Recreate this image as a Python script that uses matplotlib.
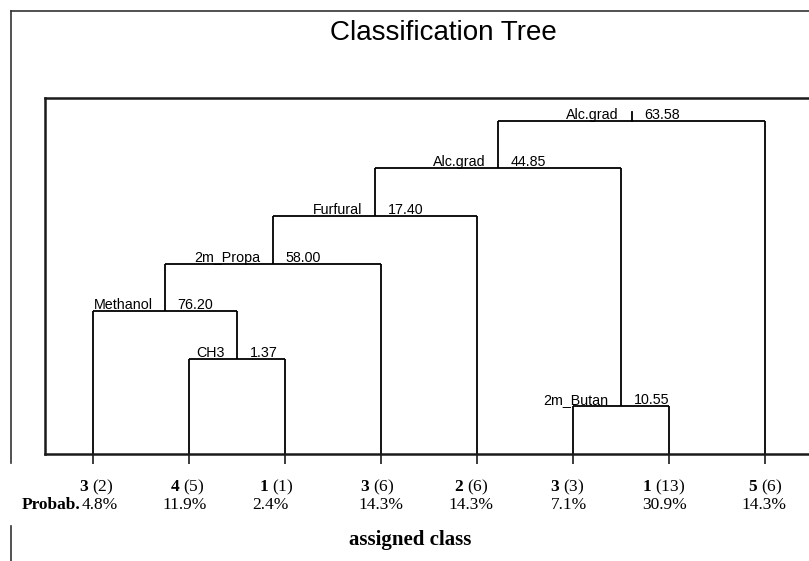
import matplotlib
matplotlib.use("Agg")
import matplotlib.pyplot as plt
from matplotlib.lines import Line2D

# folhas (classe atribuída, contagem, probabilidade)
leaf_class = ["3", "4", "1", "3", "2", "3", "1", "5"]
leaf_count = ["(2)", "(5)", "(1)", "(6)", "(6)", "(3)", "(13)", "(6)"]
leaf_prob = ["4.8%", "11.9%", "2.4%", "14.3%", "14.3%", "7.1%", "30.9%", "14.3%"]

# nós internos: nome da variável, valor de corte, filhos, nível
node_name = ["CH3", "Methanol", "2m_Propa", "Furfural", "2m_Butan", "Alc.grad", "Alc.grad"]
node_value = ["1.37", "76.20", "58.00", "17.40", "10.55", "44.85", "63.58"]
node_left = ["L1", "L0", "N1", "N2", "L5", "N3", "N5"]
node_right = ["L2", "N0", "L3", "L4", "L6", "N4", "L7"]
node_level = [2, 3, 4, 5, 1, 6, 7]

# pequenos deslocamentos horizontais dos rótulos de baixo (pixels)
class_dx = [3, -2, -9, -4, -6, -6, -5, 0]
prob_dx = [7, -4, -15, 0, -6, -4, -4, -1]

plt.rcParams["mathtext.fontset"] = "custom"
plt.rcParams["mathtext.rm"] = "Liberation Serif"
plt.rcParams["mathtext.bf"] = "Liberation Serif:bold"

W, H = 809, 561
fig = plt.figure(figsize=(W / 100, H / 100), dpi=100)

# eixo principal (a borda direita fica fora da figura, como no original)
box_l, box_r, box_t, box_b = 45, 813, 98, 454
ax = fig.add_axes([box_l / W, 1 - box_b / H, (box_r - box_l) / W, (box_b - box_t) / H])
ax.set_xlim(-0.5, 7.5)
ax.set_ylim(0, 7.48)
for s in ax.spines.values():
    s.set_linewidth(1.8)
    s.set_color("#1a1a1a")


def pos(ref):
    kind, i = ref[0], int(ref[1:])
    if kind == "L":
        return float(i), 0.0
    return node_x[i], node_level[i]


# x de cada nó = média dos filhos
node_x = [0.0] * len(node_name)
for i in range(len(node_name)):
    xl, _ = pos(node_left[i])
    xr, _ = pos(node_right[i])
    node_x[i] = (xl + xr) / 2

lc = "black"
lw = 1.3
for i in range(len(node_name)):
    xl, yl = pos(node_left[i])
    xr, yr = pos(node_right[i])
    y = node_level[i]
    ax.plot([xl, xr], [y, y], color=lc, lw=lw, solid_capstyle="butt")
    ax.plot([xl, xl], [yl, y], color=lc, lw=lw, solid_capstyle="butt")
    ax.plot([xr, xr], [yr, y], color=lc, lw=lw, solid_capstyle="butt")
    # rótulos do nó
    ax.annotate(node_name[i], (node_x[i], y), xytext=(-9, 1.5), textcoords="offset points",
                ha="right", va="baseline", fontsize=10.3, family="Liberation Sans")
    ax.annotate(node_value[i], (node_x[i], y), xytext=(9, 1.5), textcoords="offset points",
                ha="left", va="baseline", fontsize=10.3, family="Liberation Sans")

# haste curta acima da raiz
root = len(node_name) - 1
ax.plot([node_x[root], node_x[root]], [node_level[root], node_level[root] + 0.19],
        color=lc, lw=lw)

ax.set_xticks(range(len(leaf_class)))
ax.set_xticklabels([])
ax.set_yticks([])
ax.tick_params(axis="x", direction="out", length=7, width=1.2, color="#1a1a1a")

# rótulos das folhas
serif = "Liberation Serif"
for i in range(len(leaf_class)):
    txt = r"$\mathbf{" + leaf_class[i] + "}$ " + leaf_count[i]
    ax.annotate(txt, (i, 0), xytext=(class_dx[i] * 0.72, -24), textcoords="offset points",
                ha="center", va="center", fontsize=12.5, family=serif)
    ax.annotate(leaf_prob[i], (i, 0), xytext=(prob_dx[i] * 0.72, -37), textcoords="offset points",
                ha="center", va="center", fontsize=12.5, family=serif)

fig.text(22 / W, 1 - 505 / H, "Probab.", ha="left", va="center", fontsize=12.5,
         fontweight="bold", family=serif)

fig.text(410 / W, 1 - 540 / H, "assigned class", ha="center", va="center", fontsize=15,
         fontweight="bold", family=serif)

fig.text(443 / W, 1 - 33 / H, "Classification Tree", ha="center", va="center",
         fontsize=20, family="Liberation Sans")

# moldura externa
fig.add_artist(Line2D([11 / W, 11 / W], [1 - 11 / H, 1 - 463 / H], color="#333333", lw=1.2))
fig.add_artist(Line2D([11 / W, 11 / W], [1 - 526 / H, 0], color="#333333", lw=1.2))
fig.add_artist(Line2D([11 / W, 1.0], [1 - 11 / H, 1 - 11 / H], color="#333333", lw=1.2))

plt.savefig("out.png", dpi=100)
plt.close()
